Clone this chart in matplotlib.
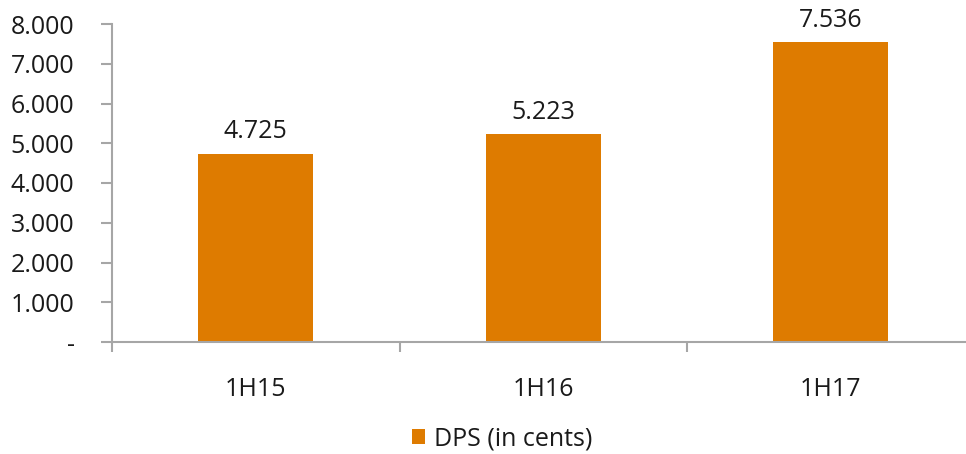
import matplotlib.pyplot as plt
from matplotlib.ticker import FuncFormatter

# data
periods = ["1H15", "1H16", "1H17"]
dps = [4.725, 5.223, 7.536]
y_ticks = [0, 1, 2, 3, 4, 5, 6, 7, 8]

BAR_COLOR = "#DE7B00"
AXIS_COLOR = "#A6A6A6"
TEXT_COLOR = "#1A1A1A"
FS = 18

plt.rcParams['font.family'] = ['Open Sans', 'DejaVu Sans']

fig = plt.figure(figsize=(9.66, 4.54), dpi=100)
ax = fig.add_axes([112 / 966, 112 / 454, 862.5 / 966, 318 / 454])

x = range(len(periods))
bars = ax.bar(x, dps, width=0.4, color=BAR_COLOR, label="DPS (in cents)", zorder=2)

for rect, v in zip(bars, dps):
    ax.annotate(f"{v:.3f}", (rect.get_x() + rect.get_width() / 2, v),
                xytext=(0, 7), textcoords="offset points",
                ha="center", va="bottom", fontsize=FS, color=TEXT_COLOR)

ax.set_xlim(-0.5, len(periods) - 0.5)
ax.set_ylim(0, 8)
ax.set_yticks(y_ticks)
ax.yaxis.set_major_formatter(FuncFormatter(lambda v, p: "-" if v == 0 else f"{v:.3f}"))

ax.set_xticks(x)
ax.set_xticklabels(periods)
# category boundary ticks
ax.set_xticks([i - 0.5 for i in range(len(periods) + 1)], minor=True)
ax.tick_params(axis="x", which="major", length=0, pad=25, labelsize=FS, labelcolor=TEXT_COLOR)
ax.tick_params(axis="x", which="minor", length=7.5, width=1.5, color=AXIS_COLOR, direction="out")
ax.tick_params(axis="y", length=8, width=1.5, color=AXIS_COLOR, pad=19,
               labelsize=FS, labelcolor=TEXT_COLOR)

for side in ["top", "right"]:
    ax.spines[side].set_visible(False)
for side in ["left", "bottom"]:
    ax.spines[side].set_color(AXIS_COLOR)
    ax.spines[side].set_linewidth(1.5)

fig.legend(loc="center", bbox_to_anchor=(502 / 966, 1 - 439 / 454), frameon=False,
           fontsize=FS, handlelength=0.55, handleheight=0.55, handletextpad=0.35,
           labelcolor=TEXT_COLOR)

fig.savefig("out.png", dpi=100)
